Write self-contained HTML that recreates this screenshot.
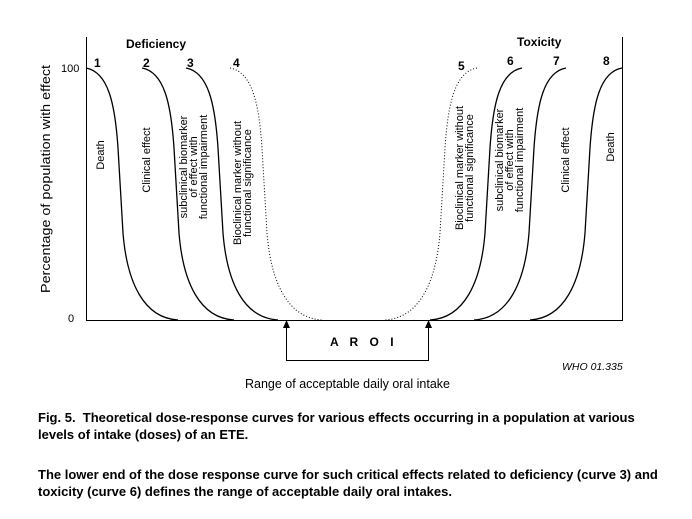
<!DOCTYPE html>
<html><head><style>
body{margin:0;background:#fff;width:692px;height:519px;overflow:hidden;font-family:"Liberation Sans",Arial,sans-serif}
.cap{position:absolute;left:38px;font-size:13px;font-weight:bold;line-height:17px;color:#000;white-space:nowrap}
</style></head><body>
<svg width="692" height="519" style="position:absolute;left:0;top:0" font-family="Liberation Sans, Arial, sans-serif">
<defs>
<path id="d" d="M0,0 C22,4 29,35 32,80 L37,165 C41,215 58,250 92,252"/>
</defs>
<g fill="none" stroke="#000" stroke-width="1">
<path d="M86.5,37 V320.5 H622.5 V37"/>
<use href="#d" x="86" y="68" stroke-width="1.3"/>
<use href="#d" x="142" y="68" stroke-width="1.3"/>
<use href="#d" x="186" y="68" stroke-width="1.3"/>
<use href="#d" x="230" y="68" stroke-dasharray="1,2"/>
<g transform="translate(708,0) scale(-1,1)">
<use href="#d" x="231" y="68" stroke-dasharray="1,2"/>
<use href="#d" x="186" y="68" stroke-width="1.3"/>
<use href="#d" x="142" y="68" stroke-width="1.3"/>
<use href="#d" x="86" y="68" stroke-width="1.3"/>
</g>
<path d="M286.5,326 V360.5 H428.5 V326"/>
</g>
<path d="M286.5,320 l-3.5,8 h7z M428.5,320 l-3.5,8 h7z" fill="#000"/>
<g font-size="12" font-weight="bold">
<text x="126" y="48">Deficiency</text>
<text x="517" y="46">Toxicity</text>
<text x="94" y="67">1</text><text x="143" y="67">2</text><text x="187" y="67">3</text><text x="233" y="67">4</text>
<text x="458" y="70">5</text><text x="507" y="65">6</text><text x="553" y="65">7</text><text x="603" y="65">8</text>
<text x="330" y="346" letter-spacing="4">A R O I</text>
</g>
<g font-size="11">
<text x="61" y="72">100</text><text x="68" y="322">0</text>
<text transform="translate(50,179) rotate(-90)" text-anchor="middle" font-size="13" textLength="228" lengthAdjust="spacingAndGlyphs">Percentage of population with effect</text>
<text transform="translate(104,155) rotate(-90)" text-anchor="middle">Death</text>
<text transform="translate(150,160) rotate(-90)" text-anchor="middle">Clinical effect</text>
<text transform="translate(187,167) rotate(-90)" text-anchor="middle">subclinical biomarker</text>
<text transform="translate(197,167) rotate(-90)" text-anchor="middle">of effect with</text>
<text transform="translate(207,167) rotate(-90)" text-anchor="middle">functional impairment</text>
<text transform="translate(241,183) rotate(-90)" text-anchor="middle">Bioclinical marker without</text>
<text transform="translate(251,183) rotate(-90)" text-anchor="middle">functional significance</text>
<text transform="translate(463,168) rotate(-90)" text-anchor="middle">Bioclinical marker without</text>
<text transform="translate(473,168) rotate(-90)" text-anchor="middle">functional significance</text>
<text transform="translate(503,160) rotate(-90)" text-anchor="middle">subclinical biomarker</text>
<text transform="translate(513,160) rotate(-90)" text-anchor="middle">of effect with</text>
<text transform="translate(523,160) rotate(-90)" text-anchor="middle">functional impairment</text>
<text transform="translate(569,160) rotate(-90)" text-anchor="middle">Clinical effect</text>
<text transform="translate(614,147) rotate(-90)" text-anchor="middle">Death</text>
<text x="562" y="370" font-style="italic" font-size="10.5">WHO 01.335</text>
<text x="245" y="388" font-size="12.5">Range of acceptable daily oral intake</text>
</g>
</svg>
<div class="cap" style="top:409px">Fig. 5.&nbsp; Theoretical dose-response curves for various effects occurring in a population at various<br>levels of intake (doses) of an ETE.</div>
<div class="cap" style="top:466px">The lower end of the dose response curve for such critical effects related to deficiency (curve 3) and<br>toxicity (curve 6) defines the range of acceptable daily oral intakes.</div>
</body></html>
